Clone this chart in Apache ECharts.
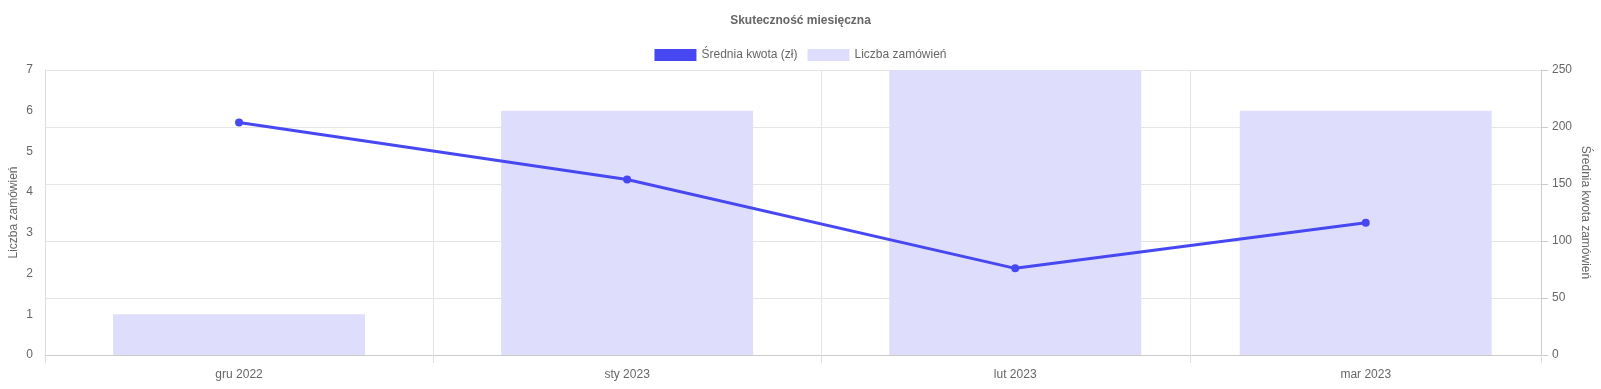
<!DOCTYPE html>
<html>
<head>
<meta charset="utf-8">
<script src="https://cdn.jsdelivr.net/npm/echarts@6/dist/echarts.min.js"></script>
<style>
html,body{margin:0;padding:0;background:#fff;}
#chart{width:1601px;height:389px;}
</style>
</head>
<body>
<div id="chart"></div>
<script>
const months = ['gru 2022', 'sty 2023', 'lut 2023', 'mar 2023'];
const monthDates = ['2022-12-01', '2023-01-01', '2023-02-01', '2023-03-01'];
const orderCounts = [1, 6, 7, 6];
const avgAmounts = [204, 154, 76, 116];
const leftTicks = [0, 1, 2, 3, 4, 5, 6, 7];
const rightTicks = [0, 50, 100, 150, 200, 250];

const DAY = 86400000;
const t0 = Date.parse(monthDates[0] + 'T00:00:00Z');
const days = monthDates.map(d => (Date.parse(d + 'T00:00:00Z') - t0) / DAY);
const n = days.length;
const xMin = days[0] - (days[1] - days[0]) / 2;
const xMax = days[n - 1] + (days[n - 1] - days[n - 2]) / 2;
const boundaries = [xMin];
for (let i = 0; i < n - 1; i++) boundaries.push((days[i] + days[i + 1]) / 2);
boundaries.push(xMax);

const font = 'Liberation Sans, Arial, sans-serif';
const chart = echarts.init(document.getElementById('chart'));
chart.setOption({
  animation: false,
  title: {
    text: 'Skuteczność miesięczna', left: 'center', top: 10,
    textStyle: { fontSize: 12, fontWeight: 'bold', color: '#666', fontFamily: font }
  },
  legend: {
    top: 44, left: 'center', itemWidth: 42, itemHeight: 12, itemGap: 10,
    textStyle: { fontSize: 12, color: '#666', fontFamily: font },
    data: [
      { name: 'Średnia kwota (zł)', icon: 'rect' },
      { name: 'Liczba zamówień', icon: 'rect' }
    ]
  },
  grid: { left: 45, right: 60, top: 70, bottom: 34, containLabel: false, outerBoundsMode: 'none' },
  xAxis: {
    type: 'value', min: xMin, max: xMax,
    axisLine: { show: true, onZero: false, lineStyle: { color: '#ccc' } },
    axisTick: { show: true, length: 8, customValues: boundaries, lineStyle: { color: '#ddd' } },
    axisLabel: {
      customValues: days, margin: 14, fontSize: 12, color: '#666', fontFamily: font,
      formatter: v => { const i = days.indexOf(v); return i >= 0 ? months[i] : ''; }
    },
    splitLine: { show: true, lineStyle: { color: '#e5e5e5' } }
  },
  yAxis: [
    {
      type: 'value', position: 'left', min: leftTicks[0], max: leftTicks[leftTicks.length - 1], interval: 1,
      name: 'Liczba zamówień', nameLocation: 'middle', nameGap: 25, nameRotate: 90, nameMoveOverlap: false,
      nameTextStyle: { fontSize: 12, color: '#666', fontFamily: font },
      axisLine: { show: true, onZero: false, lineStyle: { color: '#ddd' } },
      axisTick: { show: false },
      axisLabel: { margin: 12, fontSize: 12, color: '#666', fontFamily: font },
      splitLine: { show: false }
    },
    {
      type: 'value', position: 'right', min: rightTicks[0], max: rightTicks[rightTicks.length - 1], interval: 50,
      name: 'Średnia kwota zamówień', nameLocation: 'middle', nameGap: 38, nameRotate: -90, nameMoveOverlap: false,
      nameTextStyle: { fontSize: 12, color: '#666', fontFamily: font },
      axisLine: { show: true, onZero: false, lineStyle: { color: '#ccc' } },
      axisTick: { show: true, length: 7, lineStyle: { color: '#ccc' } },
      axisLabel: { margin: 11, fontSize: 12, color: '#666', fontFamily: font },
      splitLine: { show: true, lineStyle: { color: '#e5e5e5' } }
    }
  ],
  series: [
    {
      name: 'Średnia kwota (zł)', type: 'line', yAxisIndex: 1, z: 5,
      data: days.map((d, i) => [d, avgAmounts[i]]),
      symbol: 'circle', symbolSize: 8, showSymbol: true,
      lineStyle: { width: 3, color: '#4848f2' },
      itemStyle: { color: '#4848f2' }
    },
    {
      name: 'Liczba zamówień', type: 'bar', yAxisIndex: 0, z: 2,
      data: days.map((d, i) => [d, orderCounts[i]]),
      barWidth: 252,
      itemStyle: { color: '#dedefc' }
    }
  ]
});
</script>
</body>
</html>
